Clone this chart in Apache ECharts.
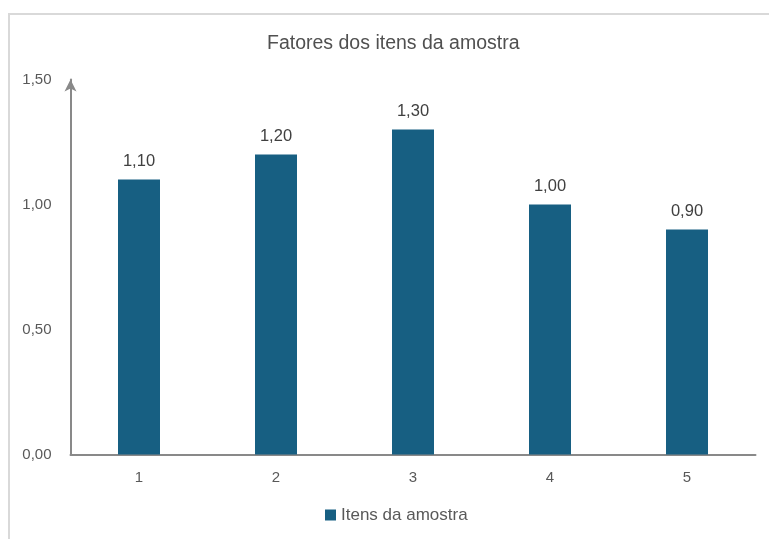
<!DOCTYPE html>
<html><head><meta charset="utf-8">
<script src="https://cdn.jsdelivr.net/npm/echarts@6/dist/echarts.min.js"></script>
<style>html,body{margin:0;padding:0;background:#fff}#c{width:769px;height:539px}
#frame{position:absolute;left:8px;top:13px;width:800px;height:600px;border:2px solid #d9d9d9;box-sizing:border-box;pointer-events:none}</style>
</head><body><div id="c"></div><div id="frame"></div>
<script>
const categories = ['1','2','3','4','5'];
const values = [1.10, 1.20, 1.30, 1.00, 0.90];
const seriesName = 'Itens da amostra';
const titleText = 'Fatores dos itens da amostra';
const fmt = v => v.toFixed(2).replace('.', ',');
const chart = echarts.init(document.getElementById('c'));
chart.setOption({
  animation: false,
  textStyle: {fontFamily: 'Liberation Sans, Arial, sans-serif'},
  title: {text: titleText, left: 262, top: 29, textStyle: {fontSize: 19.5, fontWeight: 500, color: '#505050'}},
  legend: {bottom: 10.5, left: 320, itemWidth: 11, itemHeight: 11, icon: 'rect', itemGap: 5,
    textStyle: {fontSize: 17, color: '#595959'}, data: [seriesName]},
  grid: {left: 70.5, right: 13.5, top: 79.5, bottom: 84.5, containLabel: false},
  xAxis: {type: 'category', data: categories,
    axisLine: {lineStyle: {color: '#898989', width: 2}}, axisTick: {show: false},
    axisLabel: {fontSize: 15, color: '#595959', margin: 16}},
  yAxis: {type: 'value', min: 0, max: 1.5, interval: 0.5,
    axisLine: {show: true, symbol: ['none', 'arrow'], symbolSize: [9, 12], symbolOffset: [0, 0], lineStyle: {color: '#898989', width: 2}},
    splitLine: {show: false}, axisTick: {show: false},
    axisLabel: {fontSize: 15, color: '#595959', margin: 19, formatter: v => fmt(v)}},
  series: [{name: seriesName, type: 'bar', data: values, barWidth: 42,
    itemStyle: {color: '#175f82'},
    label: {show: true, position: 'top', distance: 10, fontSize: 16.5, color: '#404040', formatter: p => fmt(p.value)}}]
});
</script></body></html>
